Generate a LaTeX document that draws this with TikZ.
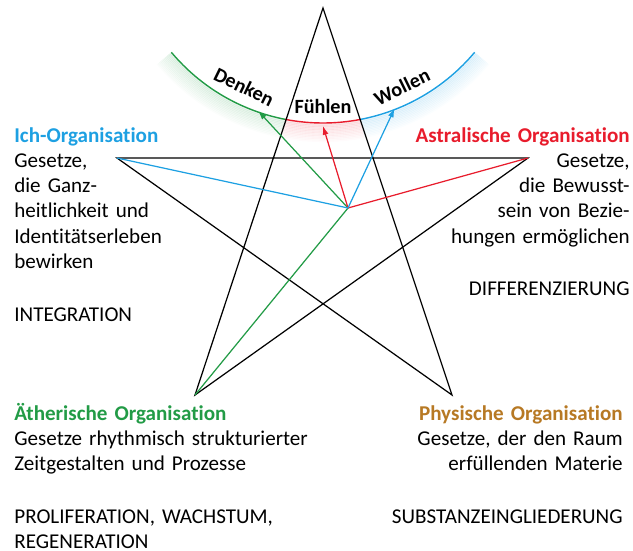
\documentclass[tikz,border=0pt]{standalone}
\usepackage{fontspec}
\setmainfont[Ligatures={NoCommon}]{Carlito}
\usetikzlibrary{arrows.meta}

\definecolor{ichblue}{RGB}{29,160,226}
\definecolor{astralred}{RGB}{232,28,44}
\definecolor{aethergreen}{RGB}{34,155,70}
\definecolor{physbrown}{RGB}{183,121,36}

\tikzset{
  starline/.style={black, line width=0.7pt},
  flow/.style={line width=0.7pt, -{Latex[length=5pt,width=3.4pt]}},
  arcline/.style={line width=0.8pt},
  orgtext/.style={inner sep=0pt, font=\fontsize{12}{14.4}\selectfont},
  armlabel/.style={inner sep=0pt, font=\fontsize{11.5}{13}\selectfont\bfseries},
}

\begin{document}
\begin{tikzpicture}[x=0.02cm, y=0.02cm]
\useasboundingbox (0,0) rectangle (633,-551);

% corners of the star, the meeting point and the centre of the arc
\coordinate (ptop) at (323,-8);
\coordinate (pleft) at (117,-158);
\coordinate (pright) at (528,-158);
\coordinate (pbl) at (195,-395);
\coordinate (pbr) at (452,-395);
\coordinate (hub) at (348,-208);
\coordinate (ctr) at (323,75);

% soft glow below the arc
\foreach \i in {1,...,12}{
  \draw[aethergreen, line width=1.2pt, opacity={0.11-0.008*\i}]
    ([shift={(220:198+1.5*\i)}]ctr) arc[start angle=220, end angle=259, radius={198+1.5*\i}];
  \draw[astralred, line width=1.2pt, opacity={0.11-0.008*\i}]
    ([shift={(259:198+1.5*\i)}]ctr) arc[start angle=259, end angle=281, radius={198+1.5*\i}];
  \draw[ichblue, line width=1.2pt, opacity={0.11-0.008*\i}]
    ([shift={(281:198+1.5*\i)}]ctr) arc[start angle=281, end angle=320, radius={198+1.5*\i}];
}

% the arc itself
\draw[arcline, aethergreen] ([shift={(220:198)}]ctr) arc[start angle=220, end angle=259, radius=198];
\draw[arcline, astralred] ([shift={(259:198)}]ctr) arc[start angle=259, end angle=281, radius=198];
\draw[arcline, ichblue] ([shift={(281:198)}]ctr) arc[start angle=281, end angle=320, radius=198];

\node[armlabel, rotate=-26] (denken) at ([shift={(244:180)}]ctr) {Denken};
\node[armlabel] (fuehlen) at ([shift={(270:181)}]ctr) {Fühlen};
\node[armlabel, rotate=26] (wollen) at ([shift={(296:180)}]ctr) {Wollen};

\coordinate (tipdenken) at ([shift={(250.8:197)}]ctr);
\coordinate (tipfuehlen) at ([shift={(270:201)}]ctr);
\coordinate (tipwollen) at ([shift={(291.3:197)}]ctr);

% pentagram
\draw[starline] (ptop) -- (pbl) -- (pright) -- (pleft) -- (pbr) -- cycle;

% arrows through the meeting point
\draw[flow, aethergreen] (pbl) -- (hub) -- (tipdenken);
\draw[flow, astralred] (pright) -- (hub) -- (tipfuehlen);
\draw[flow, ichblue] (pleft) -- (hub) -- (tipwollen);

% texts of the four organisations
\node[orgtext, text width=4cm, align=left, anchor=base west] (ich) at (14,-142)
  {\textcolor{ichblue}{\bfseries Ich-Organisation}\\Gesetze,\\die Ganz-\\heitlichkeit und\\Identitätserleben\\bewirken\\[15.5pt]INTEGRATION};
\node[orgtext, text width=4.5cm, align=right, anchor=base east] (astral) at (630,-142)
  {\textcolor{astralred}{\bfseries Astralische Organisation}\\Gesetze,\\die Bewusst-\\sein von Bezie-\\hungen ermöglichen\\[15.5pt]DIFFERENZIERUNG};
\node[orgtext, text width=6.5cm, align=left, anchor=base west] (aether) at (14,-420)
  {\textcolor{aethergreen}{\bfseries Ätherische Organisation}\\Gesetze rhythmisch strukturierter\\Zeitgestalten und Prozesse\\[15.5pt]PROLIFERATION, WACHSTUM,\\REGENERATION};
\node[orgtext, text width=5cm, align=right, anchor=base east] (phys) at (623,-420)
  {\textcolor{physbrown}{\bfseries Physische Organisation}\\Gesetze, der den Raum\\erfüllenden Materie\\[15.5pt]SUBSTANZEINGLIEDERUNG};
\end{tikzpicture}
\end{document}
